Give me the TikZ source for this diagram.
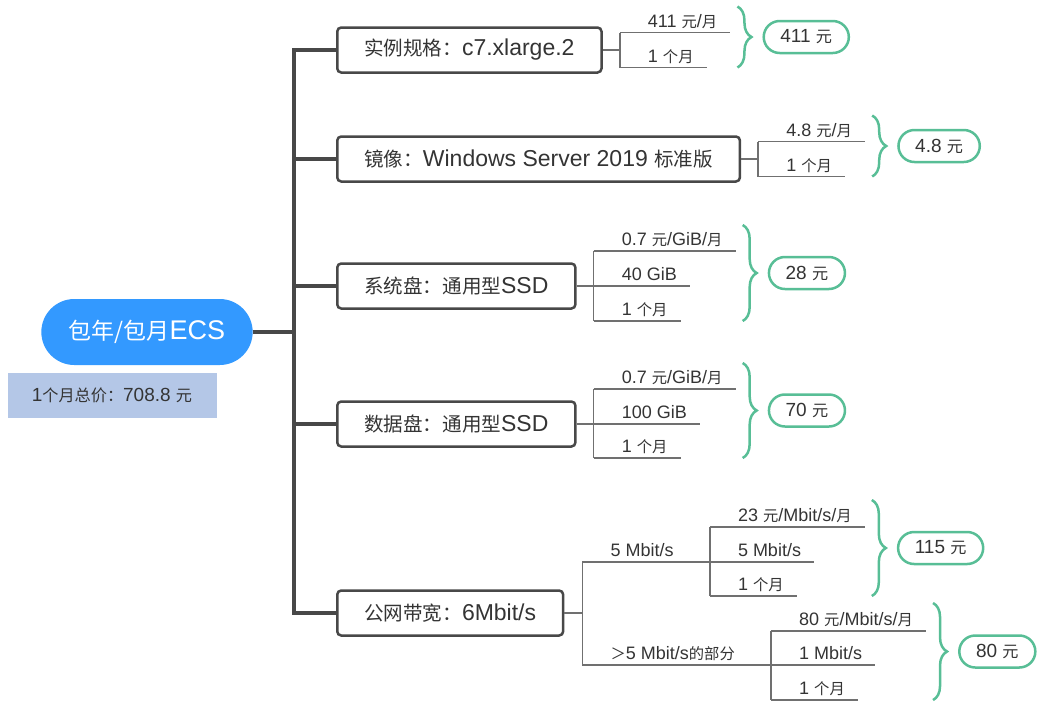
\documentclass[tikz,border=0pt]{standalone}
\usepackage{fontspec}
\setmainfont{Liberation Sans}
\newfontfamily\zhfont[Scale=0.85]{Noto Sans CJK SC}
\usetikzlibrary{positioning, calc, shapes.misc, decorations.pathreplacing}
\definecolor{rootcolor}{RGB}{51,153,255}
\definecolor{sumcolor}{RGB}{180,199,231}
\definecolor{linecolor}{RGB}{72,72,72}
\definecolor{twigcolor}{RGB}{112,112,112}
\definecolor{costcolor}{RGB}{88,190,150}
\definecolor{textcolor}{RGB}{52,52,52}
\tikzset{
    rootnode/.style={rounded rectangle, fill=rootcolor, text=white,
        minimum width=218pt, minimum height=66pt, font=\fontsize{27}{30}\selectfont},
    totalbox/.style={rectangle, fill=sumcolor, text=textcolor,
        minimum width=209pt, minimum height=45pt, font=\fontsize{19}{22}\selectfont},
    itembox/.style={rectangle, draw=linecolor, line width=2.5pt, rounded corners=4pt, fill=white,
        text=textcolor, inner xsep=27pt, minimum height=45pt, anchor=west, font=\fontsize{23}{26}\selectfont},
    leaf/.style={inner xsep=0pt, inner ysep=0pt, text height=14pt, text depth=5pt,
        anchor=south west, text=textcolor, font=\fontsize{18}{20}\selectfont},
    costpill/.style={rounded rectangle, draw=costcolor, line width=2.5pt, fill=white, text=textcolor,
        minimum height=32pt, inner xsep=15pt, font=\fontsize{19}{22}\selectfont},
    trunkline/.style={draw=linecolor, line width=4pt},
    twigline/.style={draw=twigcolor, line width=1.5pt},
    costbrace/.style={draw=costcolor, line width=2.5pt, decorate, decoration={brace, amplitude=14pt}}
}
\newcommand{\zh}[1]{{\zhfont #1}}
\newcommand{\leafpad}[1]{\hspace*{28pt}#1\hspace*{13pt}}
\newcommand{\midpad}[1]{\hspace*{28pt}#1\hspace*{36pt}}

\begin{document}
\begin{tikzpicture}[x=1pt, y=-1pt]
    \useasboundingbox (0,0) rectangle (1051,702);

    \node[rootnode] (root) at (147,332) {\zh{包年/包月}ECS};
    \node[totalbox, below=8pt of root.south, xshift=-35pt] (total) {1\zh{个月总价：}708.8 \zh{元}};
    \coordinate (trunk) at ($(root.east)+(41,0)$);

    \node[itembox] (spec) at (336,50) {\zh{实例规格：}c7.xlarge.2};
    \node[itembox] (image) at (336,159) {\zh{镜像：}Windows Server 2019 \zh{标准版}};
    \node[itembox] (sysdisk) at (336,286) {\zh{系统盘：通用型}SSD};
    \node[itembox] (datadisk) at (336,424) {\zh{数据盘：通用型}SSD};
    \node[itembox] (band) at (336,613) {\zh{公网带宽：}6Mbit/s};

    \draw[trunkline] (root.east) -- (trunk) |- (spec.west);
    \draw[trunkline] (root.east) -- (trunk) |- (image.west);
    \draw[trunkline] (root.east) -- (trunk) |- (sysdisk.west);
    \draw[trunkline] (root.east) -- (trunk) |- (datadisk.west);
    \draw[trunkline] (root.east) -- (trunk) |- (band.west);

    % instance
    \node[leaf] (specprice) at ($(spec.east)+(17,-17.5)$) {\leafpad{411 \zh{元}/\zh{月}}};
    \node[leaf] (specmonth) at ($(spec.east)+(17,17.5)$) {\leafpad{1 \zh{个月}}};
    \draw[twigline] (spec.east) -- (spec.east -| specprice.south west);
    \draw[twigline] (specprice.south west) -- (specmonth.south west);
    \draw[twigline] (specprice.south west) -- (specprice.south east);
    \draw[twigline] (specmonth.south west) -- (specmonth.south east);
    \coordinate (specbt) at ($(specprice.south east)+(7,-26)$);
    \coordinate (specbb) at (specmonth.south -| specbt);
    \draw[costbrace] (specbt) -- (specbb);
    \node[costpill, right=25pt] (speccost) at ($(specbt)!0.5!(specbb)$) {411 \zh{元}};

    % image
    \node[leaf] (imageprice) at ($(image.east)+(17,-17.5)$) {\leafpad{4.8 \zh{元}/\zh{月}}};
    \node[leaf] (imagemonth) at ($(image.east)+(17,17.5)$) {\leafpad{1 \zh{个月}}};
    \draw[twigline] (image.east) -- (image.east -| imageprice.south west);
    \draw[twigline] (imageprice.south west) -- (imagemonth.south west);
    \draw[twigline] (imageprice.south west) -- (imageprice.south east);
    \draw[twigline] (imagemonth.south west) -- (imagemonth.south east);
    \coordinate (imagebt) at ($(imageprice.south east)+(7,-26)$);
    \coordinate (imagebb) at (imagemonth.south -| imagebt);
    \draw[costbrace] (imagebt) -- (imagebb);
    \node[costpill, right=25pt] (imagecost) at ($(imagebt)!0.5!(imagebb)$) {4.8 \zh{元}};

    % system disk
    \node[leaf] (sysprice) at ($(sysdisk.east)+(17,-35)$) {\leafpad{0.7 \zh{元}/GiB/\zh{月}}};
    \node[leaf] (syssize) at ($(sysdisk.east)+(17,0)$) {\leafpad{40 GiB}};
    \node[leaf] (sysmonth) at ($(sysdisk.east)+(17,35)$) {\leafpad{1 \zh{个月}}};
    \draw[twigline] (sysdisk.east) -- (syssize.south west);
    \draw[twigline] (sysprice.south west) -- (sysmonth.south west);
    \draw[twigline] (sysprice.south west) -- (sysprice.south east);
    \draw[twigline] (syssize.south west) -- (syssize.south east);
    \draw[twigline] (sysmonth.south west) -- (sysmonth.south east);
    \coordinate (sysbt) at ($(sysprice.south east)+(7,-26)$);
    \coordinate (sysbb) at (sysmonth.south -| sysbt);
    \draw[costbrace] (sysbt) -- (sysbb);
    \node[costpill, right=25pt] (syscost) at ($(sysbt)!0.5!(sysbb)$) {28 \zh{元}};

    % data disk
    \node[leaf] (dataprice) at ($(datadisk.east)+(17,-35)$) {\leafpad{0.7 \zh{元}/GiB/\zh{月}}};
    \node[leaf] (datasize) at ($(datadisk.east)+(17,0)$) {\leafpad{100 GiB}};
    \node[leaf] (datamonth) at ($(datadisk.east)+(17,34)$) {\leafpad{1 \zh{个月}}};
    \draw[twigline] (datadisk.east) -- (datasize.south west);
    \draw[twigline] (dataprice.south west) -- (datamonth.south west);
    \draw[twigline] (dataprice.south west) -- (dataprice.south east);
    \draw[twigline] (datasize.south west) -- (datasize.south east);
    \draw[twigline] (datamonth.south west) -- (datamonth.south east);
    \coordinate (databt) at ($(dataprice.south east)+(7,-26)$);
    \coordinate (databb) at (datamonth.south -| databt);
    \draw[costbrace] (databt) -- (databb);
    \node[costpill, right=25pt] (datacost) at ($(databt)!0.5!(databb)$) {70 \zh{元}};

    % bandwidth
    \node[leaf] (bandbase) at ($(band.east)+(18,-51)$) {\midpad{5 Mbit/s}};
    \node[leaf] (bandextra) at ($(band.east)+(18,52)$) {\midpad{\zh{＞}5 Mbit/s\zh{的部分}}};
    \draw[twigline] (band.east) -- (band.east -| bandbase.south west);
    \draw[twigline] (bandbase.south west) -- (bandextra.south west);
    \draw[twigline] (bandbase.south west) -- (bandbase.south east);
    \draw[twigline] (bandextra.south west) -- (bandextra.south east);

    \node[leaf] (baseprice) at ($(bandbase.south east)+(0,-35)$) {\leafpad{23 \zh{元}/Mbit/s/\zh{月}}};
    \node[leaf] (baserate) at (bandbase.south east) {\leafpad{5 Mbit/s}};
    \node[leaf] (basemonth) at ($(bandbase.south east)+(0,34)$) {\leafpad{1 \zh{个月}}};
    \draw[twigline] (baseprice.south west) -- (basemonth.south west);
    \draw[twigline] (baseprice.south west) -- (baseprice.south east);
    \draw[twigline] (baserate.south west) -- (baserate.south east);
    \draw[twigline] (basemonth.south west) -- (basemonth.south east);
    \coordinate (basebt) at ($(baseprice.south east)+(7,-27)$);
    \coordinate (basebb) at (basemonth.south -| basebt);
    \draw[costbrace] (basebt) -- (basebb);
    \node[costpill, right=25pt] (basecost) at ($(basebt)!0.5!(basebb)$) {115 \zh{元}};

    \node[leaf] (extraprice) at ($(bandextra.south east)+(0,-34)$) {\leafpad{80 \zh{元}/Mbit/s/\zh{月}}};
    \node[leaf] (extrarate) at (bandextra.south east) {\leafpad{1 Mbit/s}};
    \node[leaf] (extramonth) at ($(bandextra.south east)+(0,35)$) {\leafpad{1 \zh{个月}}};
    \draw[twigline] (extraprice.south west) -- (extramonth.south west);
    \draw[twigline] (extraprice.south west) -- (extraprice.south east);
    \draw[twigline] (extrarate.south west) -- (extrarate.south east);
    \draw[twigline] (extramonth.south west) -- (extramonth.south east);
    \coordinate (extrabt) at ($(extraprice.south east)+(7,-28)$);
    \coordinate (extrabb) at (extramonth.south -| extrabt);
    \draw[costbrace] (extrabt) -- (extrabb);
    \node[costpill, right=25pt] (extracost) at ($(extrabt)!0.5!(extrabb)$) {80 \zh{元}};

\end{tikzpicture}
\end{document}
